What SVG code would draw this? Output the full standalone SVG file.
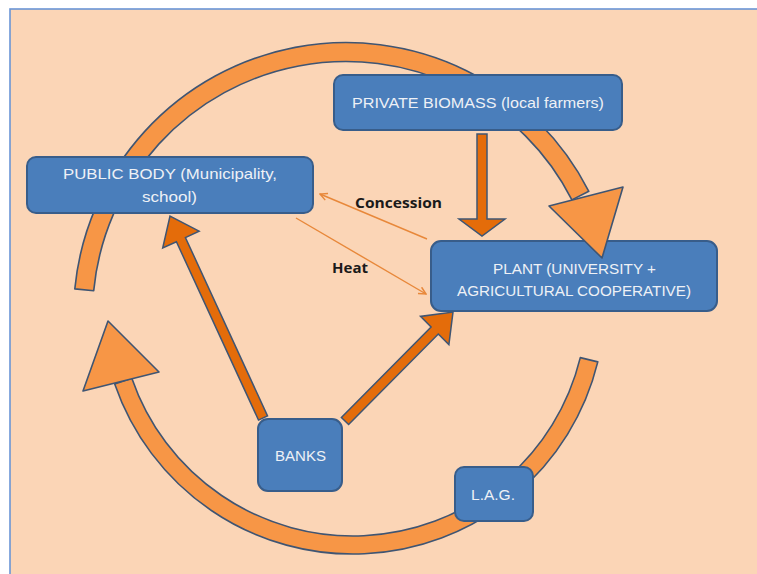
<svg xmlns="http://www.w3.org/2000/svg" width="757" height="574" viewBox="0 0 757 574">
  <defs>
    <style>
      .box { fill: #4A7EBB; stroke: #385D8A; stroke-width: 2; }
      .lbl { font-family: "Liberation Sans", "Open Sans", Arial, sans-serif; font-size: 15px; fill: #EEF1F6; text-anchor: middle; }
      .band { fill: #F79646; stroke: #3F5573; stroke-width: 1.6; stroke-linejoin: round; }
      .block { fill: #E46C0A; stroke: #3F5573; stroke-width: 1.5; stroke-linejoin: miter; }
      .thin { fill: none; stroke: #E8883A; stroke-width: 1.4; }
      .tag { font-family: "Open Sans", "Liberation Sans", Arial, sans-serif; font-size: 14px; font-weight: bold; fill: #1A1A1A; text-anchor: middle; }
    </style>
    <marker id="vhead" viewBox="0 0 10 10" refX="9" refY="5" markerWidth="9" markerHeight="9" markerUnits="userSpaceOnUse" orient="auto">
      <path d="M1,1 L9,5 L1,9" fill="none" stroke="#E8883A" stroke-width="1.6"/>
    </marker>
  </defs>

  <rect x="0" y="0" width="757" height="574" fill="#FFFFFF"/>
  <rect x="10" y="9" width="760" height="580" fill="#FBD5B6" stroke="#6A95D6" stroke-width="1.6"/>

  <g id="node-plant">
    <rect class="box" x="431" y="241" width="286" height="70" rx="10"/>
    <text class="lbl" x="574.5" y="274" textLength="163" lengthAdjust="spacingAndGlyphs">PLANT (UNIVERSITY +</text>
    <text class="lbl" x="574" y="296" textLength="234" lengthAdjust="spacingAndGlyphs">AGRICULTURAL COOPERATIVE)</text>
  </g>

  <g id="connectors">
    <!-- big cycle arcs -->
    <path class="band" d="M 74.8 288.9 A 272.5 272.5 0 0 1 588.8 191.3 L 571.9 199.9 A 253.5 253.5 0 0 0 93.7 290.7 Z"/>
    <polygon class="band" points="549,206 623,187 602,258"/>
    <path class="band" d="M 597.8 361.9 A 252 252 0 0 1 114.7 384.0 L 131.8 378.2 A 234 234 0 0 0 580.3 357.6 Z"/>
    <polygon class="band" points="83,391 108,321 159,372"/>
    <!-- block arrows -->
    <polygon class="block" points="477,134 487,134 487,219 505,219 482,236 459,219 477,219"/>
    <polygon class="block" points="267.5,415.9 185.4,237.5 199.1,231.2 170,216 162.7,248.0 176.4,241.7 258.5,420.1"/>
    <polygon class="block" points="348.6,424.5 438.3,334.0 448.9,344.6 453,312 420.5,316.4 431.1,327.0 341.4,417.5"/>
    <!-- thin arrows -->
    <line class="thin" x1="427" y1="239" x2="320" y2="194" marker-end="url(#vhead)"/>
    <line class="thin" x1="296" y1="218" x2="426" y2="294" marker-end="url(#vhead)"/>
    <text class="tag" x="398.5" y="208" textLength="87" lengthAdjust="spacingAndGlyphs">Concession</text>
    <text class="tag" x="350" y="273" textLength="36" lengthAdjust="spacingAndGlyphs">Heat</text>
  </g>

  <g id="node-private-biomass">
    <rect class="box" x="334" y="75" width="288" height="55" rx="9"/>
    <text class="lbl" x="478" y="108" textLength="252" lengthAdjust="spacingAndGlyphs">PRIVATE BIOMASS (local farmers)</text>
  </g>

  <g id="node-public-body">
    <rect class="box" x="27" y="157" width="286" height="56" rx="9"/>
    <text class="lbl" x="170" y="179" textLength="214" lengthAdjust="spacingAndGlyphs">PUBLIC BODY (Municipality,</text>
    <text class="lbl" x="169.5" y="202" textLength="55" lengthAdjust="spacingAndGlyphs">school)</text>
  </g>

  <g id="node-banks">
    <rect class="box" x="258" y="419" width="84" height="72" rx="10"/>
    <text class="lbl" x="300.5" y="461" textLength="51" lengthAdjust="spacingAndGlyphs">BANKS</text>
  </g>

  <g id="node-lag">
    <rect class="box" x="455" y="467" width="78" height="54" rx="9"/>
    <text class="lbl" x="493" y="500" textLength="44" lengthAdjust="spacingAndGlyphs">L.A.G.</text>
  </g>
</svg>
